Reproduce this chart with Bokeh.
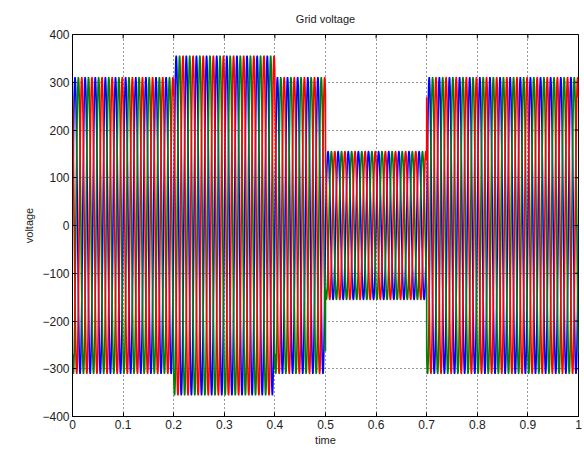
import numpy as np
from bokeh.plotting import figure
from bokeh.models import FixedTicker, Range1d
from bokeh.embed import file_html
from bokeh.resources import INLINE

# Segments of the grid voltage (start time, end time, peak amplitude)
seg_start = [0.0, 0.2, 0.4, 0.5, 0.7]
seg_end = [0.2, 0.4, 0.5, 0.7, 1.0]
seg_amp = [310, 355, 310, 155, 310]
grid_freq = 50.0
phase_shift_deg = [0, -120, 120]
phase_colors = ["#0000FF", "#008000", "#FF0000"]

x_ticks = [0, 0.1, 0.2, 0.3, 0.4, 0.5, 0.6, 0.7, 0.8, 0.9, 1.0]
x_labels = ["0", "0.1", "0.2", "0.3", "0.4", "0.5", "0.6", "0.7", "0.8", "0.9", "1"]
y_ticks = [-400, -300, -200, -100, 0, 100, 200, 300, 400]

# time base and piecewise amplitude
t = np.arange(0, 1.0 + 1e-9, 1e-4)
amp = np.zeros_like(t)
for s, e, a in zip(seg_start, seg_end, seg_amp):
    amp[(t >= s) & (t < e)] = a
amp[t >= seg_end[-1]] = seg_amp[-1]

FONT = "Liberation Sans"
X0, X1, Y0, Y1 = x_ticks[0], x_ticks[-1], y_ticks[0], y_ticks[-1]

p = figure(width=584, height=456, output_backend="svg", toolbar_location=None,
           x_range=Range1d(X0, X1), y_range=Range1d(Y0, Y1),
           min_border_left=72, min_border_right=6, min_border_top=33, min_border_bottom=40,
           title="Grid voltage")
p.title.align = "center"
p.title.text_font = FONT
p.title.text_font_style = "normal"
p.title.text_font_size = "11px"
p.title.text_color = "#222222"
p.title.standoff = 20

for ph, col in zip(phase_shift_deg, phase_colors):
    v = amp * np.sin(2 * np.pi * grid_freq * t + np.deg2rad(ph))
    p.line(t, v, line_color=col, line_width=1.6)

# inward box ticks on top and right edges (MATLAB style), ~4 px long
ty = (Y1 - Y0) * 4.0 / 383.0
tx = (X1 - X0) * 4.0 / 506.0
p.segment(x0=x_ticks, y0=[Y1] * len(x_ticks), x1=x_ticks, y1=[Y1 - ty] * len(x_ticks),
          line_color="black", line_width=1)
p.segment(x0=[X1] * len(y_ticks), y0=y_ticks, x1=[X1 - tx] * len(y_ticks), y1=y_ticks,
          line_color="black", line_width=1)

xa = p.below[0]
ya = p.left[0]
xa.ticker = FixedTicker(ticks=x_ticks)
xa.major_label_overrides = {tk: lb for tk, lb in zip(x_ticks, x_labels)}
ya.ticker = FixedTicker(ticks=y_ticks)
xa.axis_label = "time"
ya.axis_label = "voltage"
for ax in (xa, ya):
    ax.major_tick_in = 4
    ax.major_tick_out = 0
    ax.minor_tick_in = 0
    ax.minor_tick_out = 0
    ax.major_label_text_font = FONT
    ax.major_label_text_font_size = "12px"
    ax.major_label_text_color = "#222222"
    ax.axis_label_text_font = FONT
    ax.axis_label_text_font_size = "11px"
    ax.axis_label_text_font_style = "normal"
    ax.axis_label_text_color = "#222222"
    ax.axis_line_color = "black"
    ax.major_tick_line_color = "black"
    ax.major_label_standoff = 3
xa.axis_label_standoff = 2
ya.axis_label_standoff = 4

p.xgrid.ticker = FixedTicker(ticks=x_ticks)
p.ygrid.ticker = FixedTicker(ticks=y_ticks)
p.grid.grid_line_color = "black"
p.grid.grid_line_dash = "1 3"
p.grid.grid_line_alpha = 0.8
p.outline_line_color = "black"
p.outline_line_alpha = 1.0
p.background_fill_color = "white"
p.border_fill_color = "white"

open("out.html", "w").write(file_html(p, INLINE))
